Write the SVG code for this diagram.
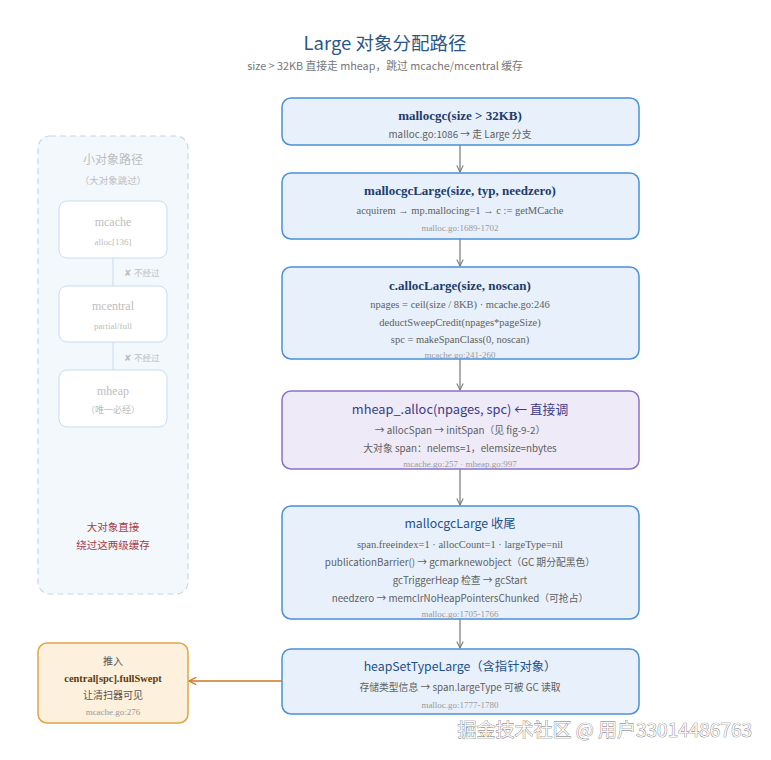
<svg xmlns="http://www.w3.org/2000/svg" width="771" height="760" viewBox="0 0 771 760">
<style>
.sans{font-family:"Noto Sans CJK SC","Liberation Sans",sans-serif}
.serif{font-family:"Liberation Serif","Noto Serif CJK SC","Noto Sans CJK SC",serif}
.t{text-anchor:middle}
.box{fill:#e8f1fb;stroke:#4a90d9;stroke-width:1.5}
.ttl{font-size:13px;font-weight:bold;fill:#1d3c6b}
.ttls{font-size:12.3px;fill:#23508a}
.body{font-size:9.8px;fill:#606060}
.sbody{font-size:10.5px;fill:#606060}
.ref{font-size:9px;fill:#9a9a9a}
.ghost{fill:#fff;stroke:#c9ddf1;stroke-width:1}
.gt{fill:#bdbdbd}
.conn{stroke:#777;stroke-width:1.2;fill:none}
</style>
<defs>
<marker id="ah" viewBox="0 0 10 10" refX="9" refY="5" markerWidth="8" markerHeight="8" orient="auto" markerUnits="userSpaceOnUse">
<path d="M1,1 L9,5 L1,9" fill="none" stroke="#777" stroke-width="1.3"/>
</marker>
<marker id="aho" viewBox="0 0 10 10" refX="9" refY="5" markerWidth="9" markerHeight="9" orient="auto" markerUnits="userSpaceOnUse">
<path d="M1,1 L9,5 L1,9" fill="none" stroke="#c87a20" stroke-width="1.4"/>
</marker>
</defs>
<rect width="771" height="760" fill="#fff"/>
<g id="header">
<text class="sans t" x="385" y="50" font-size="18.5" fill="#2a5688">Large 对象分配路径</text>
<text class="sans t" x="385" y="70" font-size="10.8" fill="#777">size &gt; 32KB 直接走 mheap，跳过 mcache/mcentral 缓存</text>
</g>
<g id="small-path">
<rect x="38" y="136" width="150" height="458" rx="12" fill="#f3f8fd" stroke="#c2d7ee" stroke-width="1.2" stroke-dasharray="6,4"/>
<text class="sans t gt" x="113" y="164" font-size="12">小对象路径</text>
<text class="sans t gt" x="113" y="184" font-size="9.5">（大对象跳过）</text>
<g id="g-mcache">
<rect class="ghost" x="59" y="201" width="108" height="57" rx="8"/>
<text class="serif t gt" x="113" y="226" font-size="12">mcache</text>
<text class="serif t gt" x="113" y="245" font-size="9">alloc[136]</text>
</g>
<line x1="113" y1="258" x2="113" y2="286" stroke="#c9ddf1" stroke-width="1"/>
<text class="sans gt" x="124" y="276" font-size="8.5">✘ 不经过</text>
<g id="g-mcentral">
<rect class="ghost" x="59" y="286" width="108" height="56" rx="8"/>
<text class="serif t gt" x="113" y="310" font-size="12">mcentral</text>
<text class="serif t gt" x="113" y="329" font-size="9">partial/full</text>
</g>
<line x1="113" y1="342" x2="113" y2="370" stroke="#c9ddf1" stroke-width="1"/>
<text class="sans gt" x="124" y="361" font-size="8.5">✘ 不经过</text>
<g id="g-mheap">
<rect class="ghost" x="59" y="370" width="108" height="57" rx="8"/>
<text class="serif t gt" x="113" y="395" font-size="12">mheap</text>
<text class="sans t gt" x="113" y="413" font-size="9">（唯一必经）</text>
</g>
<text class="sans t" x="113" y="531" font-size="10.5" fill="#a83a4a">大对象直接</text>
<text class="sans t" x="113" y="549" font-size="10.5" fill="#a83a4a">绕过这两级缓存</text>
</g>
<g id="connectors">
<line class="conn" x1="460" y1="145" x2="460" y2="172" marker-end="url(#ah)"/>
<line class="conn" x1="460" y1="239" x2="460" y2="266" marker-end="url(#ah)"/>
<line class="conn" x1="460" y1="359" x2="460" y2="390" marker-end="url(#ah)"/>
<line class="conn" x1="460" y1="469" x2="460" y2="505" marker-end="url(#ah)"/>
<line class="conn" x1="460" y1="619" x2="460" y2="648" marker-end="url(#ah)"/>
<line x1="282" y1="681" x2="189" y2="681" stroke="#c87a20" stroke-width="1.4" marker-end="url(#aho)"/>
</g>
<g id="n-mallocgc">
<rect class="box" x="282" y="98" width="357" height="47" rx="9"/>
<text class="serif t ttl" x="460" y="120">mallocgc(size &gt; 32KB)</text>
<text class="sans t body" x="460" y="138">malloc.go:1086 → 走 Large 分支</text>
</g>
<g id="n-mallocgcLarge">
<rect class="box" x="282" y="173" width="357" height="66" rx="9"/>
<text class="serif t ttl" x="460" y="195">mallocgcLarge(size, typ, needzero)</text>
<text class="serif t sbody" x="460" y="214">acquirem → mp.mallocing=1 → c := getMCache</text>
<text class="serif t ref" x="460" y="231">malloc.go:1689-1702</text>
</g>
<g id="n-allocLarge">
<rect class="box" x="282" y="267" width="357" height="92" rx="9"/>
<text class="serif t ttl" x="460" y="290">c.allocLarge(size, noscan)</text>
<text class="serif t sbody" x="460" y="308">npages = ceil(size / 8KB) · mcache.go:246</text>
<text class="serif t sbody" x="460" y="326">deductSweepCredit(npages*pageSize)</text>
<text class="serif t sbody" x="460" y="343">spc = makeSpanClass(0, noscan)</text>
<text class="serif t ref" x="460" y="358">mcache.go:241-260</text>
</g>
<g id="n-mheap-alloc">
<rect x="282" y="391" width="357" height="78" rx="9" fill="#eeeaf8" stroke="#8a72c8" stroke-width="1.5"/>
<text class="sans t" x="460" y="414" font-size="12.8" fill="#3b3b86">mheap_.alloc(npages, spc) ← 直接调</text>
<text class="sans t body" x="460" y="434">→ allocSpan → initSpan（见 fig-9-2）</text>
<text class="sans t body" x="460" y="452">大对象 span：nelems=1，elemsize=nbytes</text>
<text class="serif t ref" x="460" y="467">mcache.go:257 · mheap.go:997</text>
</g>
<g id="n-finish">
<rect class="box" x="282" y="506" width="357" height="113" rx="9"/>
<text class="sans t ttls" x="460" y="528">mallocgcLarge 收尾</text>
<text class="serif t sbody" x="460" y="548">span.freeindex=1 · allocCount=1 · largeType=nil</text>
<text class="sans t body" x="460" y="566">publicationBarrier() → gcmarknewobject（GC 期分配黑色）</text>
<text class="sans t body" x="460" y="584">gcTriggerHeap 检查 → gcStart</text>
<text class="sans t body" x="460" y="602">needzero → memclrNoHeapPointersChunked（可抢占）</text>
<text class="serif t ref" x="460" y="617">malloc.go:1705-1766</text>
</g>
<g id="n-heapSetTypeLarge">
<rect class="box" x="282" y="649" width="357" height="65" rx="9"/>
<text class="sans t ttls" x="460" y="671">heapSetTypeLarge（含指针对象）</text>
<text class="sans t body" x="460" y="691">存储类型信息 → span.largeType 可被 GC 读取</text>
<text class="serif t ref" x="460" y="708">malloc.go:1777-1780</text>
</g>
<g id="n-fullSwept">
<rect x="38" y="643" width="150" height="80" rx="9" fill="#fdf0dc" stroke="#e0a445" stroke-width="1.5"/>
<text class="sans t" x="113" y="665" font-size="10" fill="#555">推入</text>
<text class="serif t" x="113" y="682" font-size="10.4" font-weight="bold" fill="#5a3a10">central[spc].fullSwept</text>
<text class="sans t" x="113" y="699" font-size="10" fill="#555">让清扫器可见</text>
<text class="serif t" x="113" y="715" font-size="9" fill="#9a9a9a">mcache.go:276</text>
</g>
<text class="sans" x="752" y="737" text-anchor="end" font-size="19" fill="#f6f6f6" stroke="#707070" stroke-width="0.7" paint-order="stroke">掘金技术社区 @ 用户33014486763</text>
</svg>
